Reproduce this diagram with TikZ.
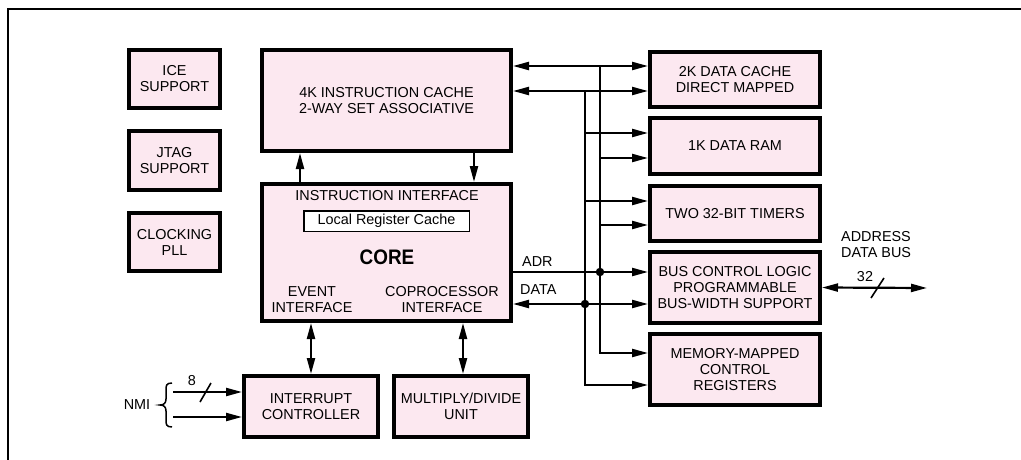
\documentclass[tikz,border=0pt]{standalone}
\usepackage{fontspec}
\setmainfont{Liberation Sans}
\usetikzlibrary{arrows.meta}
\definecolor{boxpink}{RGB}{252,232,240}
\newcommand{\txt}{\fontsize{14.4}{16}\selectfont}
\begin{document}
\begin{tikzpicture}[x=1pt,y=-1pt,
  blk/.style={draw, line width=4pt, fill=boxpink, align=center, inner sep=0pt, font=\txt},
  lbl/.style={align=center, inner sep=0pt, font=\txt},
  ln/.style={line width=2.2pt},
  >={Triangle[length=16pt,width=8pt]},
  dot/.style={circle, fill, inner sep=0pt, minimum size=8.5pt}]
\useasboundingbox (0,0) rectangle (1021,460);
\fill[white] (0,0) rectangle (1021,460);
% frame
\draw[line width=1.5pt] (8,460) -- (8,9) -- (1021,9);

% left boxes
\node[blk, minimum width=91pt, minimum height=58pt] (ice) at (174.5,79) {ICE\\SUPPORT};
\node[blk, minimum width=91pt, minimum height=59pt] (jtag) at (174.5,160.5) {JTAG\\SUPPORT};
\node[blk, minimum width=91pt, minimum height=58pt] (clk) at (174.5,242) {CLOCKING\\PLL};

% cache and core
\node[blk, minimum width=249pt, minimum height=101pt] (cache) at (386.5,100.5) {4K INSTRUCTION CACHE\\2-WAY SET ASSOCIATIVE};
\node[blk, minimum width=249pt, minimum height=137pt] (core) at (386.5,252.5) {};
\node[lbl] (ii) at (387,196) {INSTRUCTION INTERFACE};
\node[draw, fill=white, line width=1.5pt, minimum width=165.5pt, minimum height=20.5pt, inner sep=0pt, font=\txt] (lrc) at (386.5,221) {Local Register Cache};
\node[inner sep=0pt, font=\fontsize{21}{24}\selectfont\bfseries] (corelbl) at (387,257) {\scalebox{0.9}[1]{CORE}};
\node[lbl] (ev) at (312,300) {EVENT\\INTERFACE};
\node[lbl] (cop) at (442,300) {COPROCESSOR\\INTERFACE};

% bottom boxes
\node[blk, minimum width=134pt, minimum height=61pt] (intr) at (311,406.5) {INTERRUPT\\CONTROLLER};
\node[blk, minimum width=134pt, minimum height=61pt] (mul) at (461,406.5) {MULTIPLY/DIVIDE\\UNIT};

% right boxes
\node[blk, minimum width=170pt, minimum height=55pt] (dc) at (735,79.5) {2K DATA CACHE\\DIRECT MAPPED};
\node[blk, minimum width=170pt, minimum height=56pt] (ram) at (735,146) {1K DATA RAM};
\node[blk, minimum width=170pt, minimum height=55pt] (tim) at (735,213.5) {TWO 32-BIT TIMERS};
\node[blk, minimum width=170pt, minimum height=71pt] (bus) at (735,287.5) {BUS CONTROL LOGIC\\PROGRAMMABLE\\BUS-WIDTH SUPPORT};
\node[blk, minimum width=170pt, minimum height=71pt] (mem) at (735,369.5) {MEMORY-MAPPED\\CONTROL\\REGISTERS};

% cache <-> core
\draw[ln,->] ([xshift=-86.5pt]core.north) -- ([xshift=-86.5pt]cache.south);
\draw[ln,->] ([xshift=87.5pt]cache.south) -- ([xshift=87.5pt]core.north);
% core <-> bottom
\draw[ln,<->] ([xshift=-75.5pt]core.south) -- (intr.north);
\draw[ln,<->] ([xshift=76.5pt]core.south) -- ([xshift=2pt]mul.north);

% bus coordinates
\coordinate (v1) at (600,66);
\coordinate (v2) at (585,91);
\coordinate (r133) at (0,133);
\coordinate (r158) at (0,158);
\coordinate (r201) at (0,201);
\coordinate (r225) at (0,225);
\coordinate (radr) at (0,272);
\coordinate (rdat) at (0,304);
\coordinate (r353) at (0,353);
\coordinate (r385) at (0,385);

\draw[ln,<->] (cache.east |- v1) -- (dc.west |- v1);
\draw[ln,<->] (cache.east |- v2) -- (dc.west |- v2);
\draw[ln,->] (v1) |- (mem.west |- r353);
\draw[ln,->] (v2) |- (mem.west |- r385);
\draw[ln,->] (v2 |- r133) -- (ram.west |- r133);
\draw[ln,->] (v1 |- r158) -- (ram.west |- r158);
\draw[ln,->] (v2 |- r201) -- (tim.west |- r201);
\draw[ln,->] (v1 |- r225) -- (tim.west |- r225);
\draw[ln,->] (core.east |- radr) -- (bus.west |- radr);
\draw[ln,<->] (core.east |- rdat) -- (bus.west |- rdat);
\node[dot] (d1) at (v1 |- radr) {};
\node[dot] (d2) at (v2 |- rdat) {};
\node[lbl, anchor=west] (adr) at (522,262) {ADR};
\node[lbl, anchor=west] (data) at (520,290) {DATA};

% external bus
\coordinate (ext) at (927,288);
\draw[ln,<->] (bus.east) -- (ext);
\draw[line width=1.6pt] (871,298) -- (884,278);
\node[lbl] (n32) at (865,277) {32};
\node[lbl, anchor=west, align=left] (adb) at (841,245) {ADDRESS\\DATA BUS};

% NMI
\coordinate (n1) at (173,392);
\coordinate (n2) at (173,417);
\draw[ln,->] (n1) -- (intr.west |- n1);
\draw[ln,->] (n2) -- (intr.west |- n2);
\draw[line width=1.6pt] (200,402) -- (211,383);
\node[lbl] (n8) at (192,381) {8};
\node[lbl] (nmi) at (137,405) {NMI};
\draw[line width=1.5pt] (172,383) .. controls (166,383) and (166,386) .. (166,390) -- (166,399)
  .. controls (166,403) and (164,405) .. (160,405) .. controls (164,405) and (166,407) .. (166,411)
  -- (166,420) .. controls (166,424) and (166,427) .. (172,427);
\end{tikzpicture}
\end{document}
